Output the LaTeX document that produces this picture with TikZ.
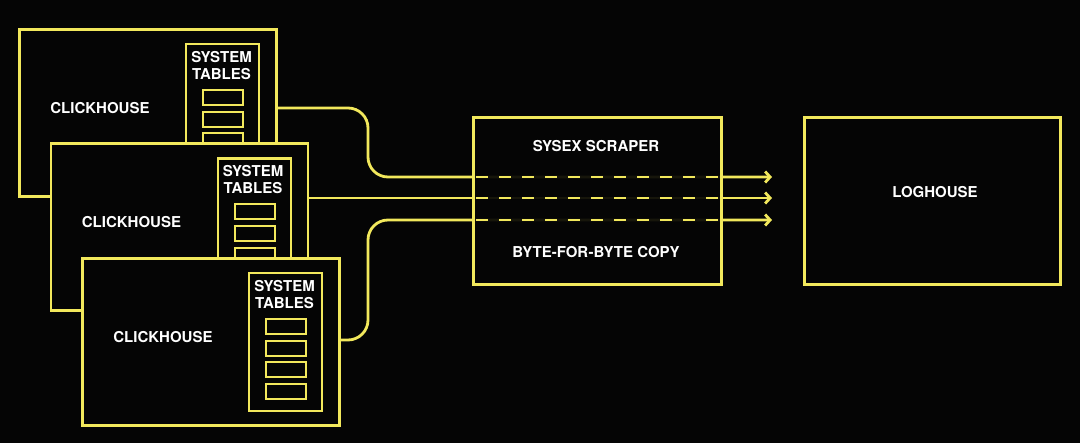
\documentclass[tikz,border=0pt]{standalone}
\usepackage{fontspec}
\setmainfont{TeX Gyre Heros}
\usetikzlibrary{arrows.meta}
\definecolor{bg}{HTML}{050505}
\definecolor{ylw}{HTML}{F2E85C}
\tikzset{
 box/.style={draw=ylw, line width=2.8pt, fill=bg, inner sep=0pt, anchor=north west},
 lbl/.style={text=white, font=\fontsize{15}{17}\selectfont\bfseries, align=center, inner sep=0pt},
 tbl/.style={draw=ylw, line width=2pt, fill=bg, minimum width=40pt, minimum height=15pt, anchor=north west, inner sep=0pt},
 flow/.style={draw=ylw, line width=2.8pt, rounded corners=20pt},
 dashflow/.style={draw=ylw, line width=2.8pt, dash pattern=on 12pt off 11pt, dash phase=-4pt},
 tip/.style={-{Straight Barb[length=5pt,width=11pt]}},
}
\begin{document}
\begin{tikzpicture}[x=1pt,y=-1pt]
\fill[bg] (0,0) rectangle (1080,443);
\useasboundingbox (0,0) rectangle (1080,443);
\foreach \i/\x/\y in {1/18/28, 2/49.5/142.5, 3/81/257} {
 \node[box, minimum width=257pt, minimum height=167pt] (ch\i) at (\x,\y) {};
 \node[lbl] (chl\i) at (\x+82,\y+80) {CLICKHOUSE};
 \node[box, line width=2.2pt, minimum width=73pt, minimum height=138pt] (st\i) at (\x+167,\y+15) {};
 \node[lbl] (stl\i) at (\x+203.5,\y+37.5) {SYSTEM\\TABLES};
 \foreach \j/\dy in {0/46,1/67.7,2/89.3,3/111} {
  \node[tbl] (t\i\j) at (\x+184,\y+15+\dy) {};
 }
}
% loghouse
\node[box, minimum width=256pt, minimum height=167pt] (lg) at (803,116) {};
\node[lbl] (lgl) at (935,192) {LOGHOUSE};
% connectors
\draw[flow, tip, shorten >=31pt] (ch1.east |- 0,108) -- (368,108) -- (368,177) -- (lg.west |- 0,177);
\draw[flow, tip, shorten >=31pt] (ch2.east |- 0,198) -- (lg.west |- 0,198);
\draw[flow, tip, shorten >=31pt] (ch3.east |- 0,340) -- (368,340) -- (368,220) -- (lg.west |- 0,220);
% scraper
\node[box, fill opacity=0.92, minimum width=248pt, minimum height=167pt] (sx) at (472,116) {};
\node[lbl] (sxl1) at (596,146) {SYSEX SCRAPER};
\node[lbl] (sxl2) at (596,252) {BYTE-FOR-BYTE COPY};
\foreach \yy in {177,198,220} {
 \draw[dashflow] (sx.west |- 0,\yy) -- (sx.east |- 0,\yy);
}
\end{tikzpicture}
\end{document}
